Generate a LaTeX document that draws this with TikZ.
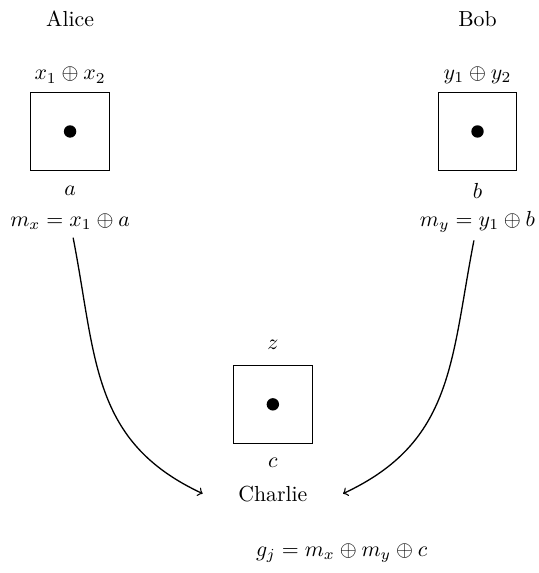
\documentclass[tikz,border=0pt]{standalone}
\usepackage{amsmath,amssymb}
\usepackage{tikz}
\usetikzlibrary{positioning}

\begin{document}
\begin{tikzpicture}[
    party/.style={rectangle, draw, minimum size=1.27cm},
    arrow/.style={->, semithick},
    dot/.style={circle, fill, inner sep=0pt, minimum size=0.2cm}
]
    \useasboundingbox (0,0) rectangle (8.69,-9.24);

    % Alice
    \node (alice) at (1.13,-0.30) {Alice};
    \node (xin) at (1.13,-1.21) {$x_1 \oplus x_2$};
    \node[party] (abox) at (1.13,-2.12) {};
    \node[dot] (adot) at (abox.center) {};
    \node (a) at (1.13,-3.08) {$a$};
    \node (mx) at (1.13,-3.58) {$m_x = x_1 \oplus a$};

    % Bob
    \node (bob) at (7.70,-0.30) {Bob};
    \node (yin) at (7.70,-1.21) {$y_1 \oplus y_2$};
    \node[party] (bbox) at (7.70,-2.12) {};
    \node[dot] (bdot) at (bbox.center) {};
    \node (b) at (7.70,-3.08) {$b$};
    \node (my) at (7.70,-3.58) {$m_y = y_1 \oplus b$};

    % Charlie
    \node (z) at (4.40,-5.56) {$z$};
    \node[party] (cbox) at (4.40,-6.52) {};
    \node[dot] (cdot) at (cbox.center) {};
    \node (c) at (4.40,-7.46) {$c$};
    \node (charlie) at (4.40,-7.96) {Charlie};
    \node (gj) at (5.51,-8.92) {$g_j = m_x \oplus m_y \oplus c$};
    \coordinate (cleft) at ([xshift=-0.45cm]charlie.west);
    \coordinate (cright) at ([xshift=0.45cm]charlie.east);

    % Messages
    \draw[arrow] (mx) to[out=-79, in=155, looseness=1.1] (cleft);
    \draw[arrow] (my) to[out=-101, in=25, looseness=1.1] (cright);
\end{tikzpicture}
\end{document}
